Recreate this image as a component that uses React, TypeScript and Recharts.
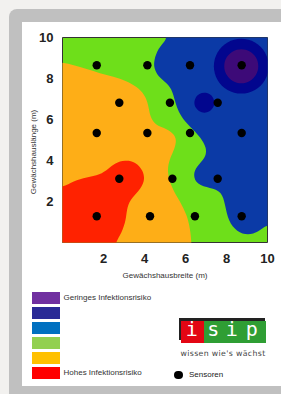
import { ScatterChart, Scatter, XAxis, YAxis, CartesianGrid, ReferenceArea } from 'recharts';

// sensor positions (m)
const sensors = [
  { x: 1.67, y: 8.65 }, { x: 4.14, y: 8.65 }, { x: 6.22, y: 8.65 }, { x: 8.74, y: 8.65 },
  { x: 2.77, y: 6.82 }, { x: 5.24, y: 6.82 }, { x: 7.57, y: 6.82 },
  { x: 1.67, y: 5.34 }, { x: 4.14, y: 5.34 }, { x: 6.22, y: 5.34 }, { x: 8.74, y: 5.34 },
  { x: 2.77, y: 3.11 }, { x: 5.36, y: 3.11 }, { x: 7.57, y: 3.11 },
  { x: 1.67, y: 1.28 }, { x: 4.27, y: 1.28 }, { x: 6.46, y: 1.28 }, { x: 8.74, y: 1.28 },
];

// contour outlines (points past the edges get clipped)
const orangeZone = [
  { x: -1, y: 8.8 }, { x: 0, y: 8.79 }, { x: 0.53, y: 8.66 }, { x: 1.18, y: 8.46 },
  { x: 1.83, y: 8.25 }, { x: 2.48, y: 8.09 }, { x: 3.13, y: 7.88 }, { x: 3.62, y: 7.6 },
  { x: 4.02, y: 7.2 }, { x: 4.19, y: 6.71 }, { x: 4.27, y: 6.14 }, { x: 4.51, y: 5.77 },
  { x: 4.84, y: 5.62 }, { x: 5.25, y: 5.45 }, { x: 5.58, y: 5.12 }, { x: 5.49, y: 4.61 },
  { x: 5.24, y: 4.12 }, { x: 5.08, y: 3.47 }, { x: 5.33, y: 2.66 }, { x: 5.73, y: 2.01 },
  { x: 6.06, y: 1.36 }, { x: 6.22, y: 0.71 }, { x: 6.3, y: 0 }, { x: 6.3, y: -1 },
  { x: 5.3, y: -1 }, { x: 0, y: -1 }, { x: -1, y: -1 }, { x: -1, y: 0 },
];

const redZone = [
  { x: -1, y: 2.66 }, { x: 0, y: 2.66 }, { x: 0.53, y: 3.01 }, { x: 1.18, y: 3.18 },
  { x: 1.83, y: 3.3 }, { x: 2.23, y: 3.58 }, { x: 2.56, y: 3.88 }, { x: 3.05, y: 4.02 },
  { x: 3.56, y: 3.94 }, { x: 3.95, y: 3.5 }, { x: 4.02, y: 2.99 }, { x: 3.72, y: 2.5 },
  { x: 3.29, y: 2.09 }, { x: 3.13, y: 1.6 }, { x: 3.1, y: 1.11 }, { x: 2.89, y: 0.46 },
  { x: 2.56, y: 0 }, { x: 2.4, y: -1 }, { x: 0, y: -1 }, { x: -1, y: -1 }, { x: -1, y: 0 },
];

const blueZone = [
  { x: 5.08, y: 11 }, { x: 5.08, y: 10 }, { x: 5.0, y: 9.83 }, { x: 4.67, y: 9.47 },
  { x: 4.46, y: 8.9 }, { x: 4.46, y: 8.5 }, { x: 4.67, y: 8.09 }, { x: 5.0, y: 7.84 },
  { x: 5.33, y: 7.52 }, { x: 5.49, y: 6.87 }, { x: 5.65, y: 6.38 }, { x: 5.98, y: 5.89 },
  { x: 6.38, y: 5.49 }, { x: 6.71, y: 5.16 }, { x: 7.05, y: 4.61 }, { x: 6.97, y: 4.12 },
  { x: 6.55, y: 3.72 }, { x: 6.36, y: 3.31 }, { x: 6.55, y: 2.82 }, { x: 7.2, y: 2.66 },
  { x: 7.77, y: 2.5 }, { x: 7.93, y: 1.84 }, { x: 8.09, y: 1.03 }, { x: 8.5, y: 0.52 },
  { x: 9.06, y: 0.34 }, { x: 9.55, y: 0.52 }, { x: 9.88, y: 0.79 }, { x: 10, y: 0.84 },
  { x: 11, y: 0.84 }, { x: 11, y: 2 }, { x: 11, y: 10 }, { x: 11, y: 11 }, { x: 10, y: 11 },
  { x: 6, y: 11 },
];

const navyRing = [
  { x: 10.12, y: 8.6 }, { x: 9.93, y: 9.3 }, { x: 9.42, y: 9.81 }, { x: 8.72, y: 10.0 },
  { x: 8.02, y: 9.81 }, { x: 7.51, y: 9.3 }, { x: 7.32, y: 8.6 }, { x: 7.51, y: 7.9 },
  { x: 8.02, y: 7.39 }, { x: 8.72, y: 7.2 }, { x: 9.42, y: 7.39 }, { x: 9.93, y: 7.9 },
];

const purpleCore = [
  { x: 9.59, y: 8.6 }, { x: 9.47, y: 9.04 }, { x: 9.16, y: 9.35 }, { x: 8.72, y: 9.47 },
  { x: 8.29, y: 9.35 }, { x: 7.97, y: 9.04 }, { x: 7.85, y: 8.6 }, { x: 7.97, y: 8.17 },
  { x: 8.29, y: 7.85 }, { x: 8.72, y: 7.73 }, { x: 9.16, y: 7.85 }, { x: 9.47, y: 8.17 },
];

const navySpot = [
  { x: 7.43, y: 6.82 }, { x: 7.36, y: 7.08 }, { x: 7.18, y: 7.26 }, { x: 6.92, y: 7.33 },
  { x: 6.67, y: 7.26 }, { x: 6.48, y: 7.08 }, { x: 6.41, y: 6.82 }, { x: 6.48, y: 6.57 },
  { x: 6.67, y: 6.38 }, { x: 6.92, y: 6.31 }, { x: 7.18, y: 6.38 }, { x: 7.36, y: 6.57 },
];

const axisTicks = [2, 4, 6, 8, 10];

const legendLabels = ['Geringes Infektionsrisiko', '', '', '', '', 'Hohes Infektionsrisiko'];
const legendColors = ['#7030a0', '#2a2a96', '#0070c0', '#92d050', '#ffc000', '#ff0000'];

const zones = [
  { name: 'orange', data: orangeZone, color: '#feae17' },
  { name: 'red', data: redZone, color: '#ff2200' },
  { name: 'blue', data: blueZone, color: '#0b3aa6' },
  { name: 'navy', data: navyRing, color: '#02068e' },
  { name: 'purple', data: purpleCore, color: '#3d0a78' },
  { name: 'navy2', data: navySpot, color: '#02068e' },
];

const font = '"Liberation Sans", Arial, sans-serif';
const noDot = () => <g />;
const sensorDot = (p: any) => <circle cx={p.cx} cy={p.cy} r={4.2} fill="#000" />;

export default function App() {
  return (
    <div
      style={{
        position: 'absolute', left: 0, top: 0, width: 281, height: 394,
        overflow: 'hidden', background: '#f2f1ef', fontFamily: font,
      }}
    >
      <div style={{ position: 'absolute', left: 9, top: 9, width: 320, height: 400, background: '#c0c0c0', borderTopLeftRadius: 8 }} />
      <div style={{ position: 'absolute', left: 22, top: 22, width: 300, height: 364, background: '#fff' }} />

      <div style={{ position: 'absolute', left: 0, top: 0 }}>
        <ScatterChart width={281} height={290} margin={{ top: 37.5, right: 13.5, bottom: 7.5, left: 0 }}>
          <CartesianGrid horizontal={false} vertical={false} fill="#6edf1a" />
          <XAxis
            type="number" dataKey="x" domain={[0, 10]} ticks={axisTicks} interval={0}
            allowDataOverflow axisLine={false} tickLine={false} tickSize={0} tickMargin={11}
            height={40}
            tick={{ fontSize: 13, fontWeight: 'bold', fill: '#222' }}
            label={{ value: 'Gewächshausbreite (m)', position: 'insideBottom', offset: 4.5, fontSize: 8, fill: '#333' }}
          />
          <YAxis
            type="number" dataKey="y" domain={[0, 10]} ticks={axisTicks} interval={0}
            allowDataOverflow axisLine={false} tickLine={false} tickSize={0} tickMargin={9}
            width={62.5}
            tick={{ fontSize: 13, fontWeight: 'bold', fill: '#222' }}
            label={{
              value: 'Gewächshauslänge (m)', angle: -90, position: 'insideLeft', offset: 33.5,
              dy: 12, fontSize: 8, fill: '#333', style: { textAnchor: 'middle' },
            }}
          />
          {zones.map((z) => (
            <Scatter
              key={z.name}
              data={z.data}
              shape={noDot}
              line={{ fill: z.color, stroke: 'none' }}
              lineType="joint"
              lineJointType="basisClosed"
              isAnimationActive={false}
            />
          ))}
          <Scatter data={sensors} shape={sensorDot} fill="#000" isAnimationActive={false} />
          <ReferenceArea x1={0} x2={10} y1={0} y2={10} fill="none" stroke="#333" strokeWidth={1} fillOpacity={0} />
        </ScatterChart>
      </div>

      {legendColors.map((c, i) => (
        <div key={c}>
          <div style={{ position: 'absolute', left: 32, top: 292 + i * 15, width: 27.5, height: 12, background: c }} />
          {legendLabels[i] && (
            <div style={{ position: 'absolute', left: 63.5, top: 292 + i * 15, lineHeight: '12px', fontSize: 8, color: '#333', whiteSpace: 'nowrap' }}>
              {legendLabels[i]}
            </div>
          )}
        </div>
      ))}

      <div style={{ position: 'absolute', left: 179, top: 317.5, width: 86, height: 22, background: '#222' }} />
      <div style={{ position: 'absolute', left: 181, top: 320.5, width: 22.5, height: 22, background: '#e30613' }} />
      <div style={{ position: 'absolute', left: 203.5, top: 320.5, width: 62.5, height: 22, background: '#2f9e34' }} />
      {[['i', 191.7], ['s', 213.3], ['i', 231.7], ['p', 251.7]].map(([ch, cx], i) => (
        <div
          key={i}
          style={{
            position: 'absolute', left: (cx as number) - 10, top: 318, width: 20, textAlign: 'center',
            fontFamily: '"DejaVu Sans Mono", monospace', fontSize: 20, lineHeight: '22px', color: '#fff',
          }}
        >
          {ch}
        </div>
      ))}
      <div
        style={{
          position: 'absolute', left: 180.5, top: 348, fontSize: 7.8, lineHeight: '12px', color: '#444',
          fontFamily: '"DejaVu Sans", sans-serif', letterSpacing: 0.35, whiteSpace: 'nowrap',
        }}
      >
        wissen wie's wächst
      </div>

      <div style={{ position: 'absolute', left: 174, top: 370.7, width: 8.6, height: 8.6, borderRadius: '50%', background: '#000' }} />
      <div style={{ position: 'absolute', left: 189, top: 369, fontSize: 8, lineHeight: '12px', color: '#222', whiteSpace: 'nowrap' }}>
        Sensoren
      </div>
    </div>
  );
}
